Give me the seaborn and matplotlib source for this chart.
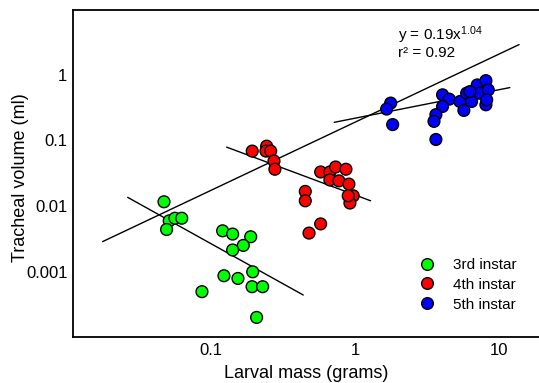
import numpy as np
import pandas as pd
import matplotlib
matplotlib.use("Agg")
import matplotlib.pyplot as plt
import matplotlib.ticker as mticker
from matplotlib.lines import Line2D
import seaborn as sns

# --- data (grams, ml) ---
mass_3rd = [0.0472, 0.0513, 0.0562, 0.0627, 0.0492, 0.1205, 0.1415, 0.1888, 0.1677,
            0.1415, 0.1231, 0.154, 0.195, 0.193, 0.2286, 0.0866, 0.2075]
vol_3rd = [0.0116, 0.00593, 0.00651, 0.00651, 0.00438, 0.00418, 0.00373, 0.00339, 0.0025,
           0.00213, 0.000861, 0.000783, 0.000989, 0.000586, 0.000586, 0.000492, 0.000199]

mass_4th = [0.1935, 0.2437, 0.241, 0.26, 0.274, 0.278, 0.578, 0.67, 0.734, 0.866,
            0.67, 0.774, 0.908, 0.973, 0.923, 0.898, 0.452, 0.452, 0.578, 0.48]
vol_4th = [0.0689, 0.082, 0.0689, 0.0689, 0.0486, 0.0364, 0.0331, 0.0331, 0.0394, 0.0364,
           0.025, 0.0242, 0.0216, 0.0143, 0.0111, 0.0143, 0.0167, 0.012, 0.00533, 0.00386]

mass_5th = [1.771, 1.66, 1.828, 4.06, 4.52, 4.06, 3.65, 3.54, 3.65, 5.36, 5.71, 5.97,
            6.46, 7.07, 8.12, 8.0, 8.12, 7.3, 6.29, 8.43, 8.22]
vol_5th = [0.3726, 0.302, 0.175, 0.498, 0.428, 0.331, 0.248, 0.196, 0.1036, 0.394, 0.288,
           0.528, 0.394, 0.705, 0.82, 0.558, 0.351, 0.528, 0.558, 0.593, 0.418]

instars = ["3rd instar", "4th instar", "5th instar"]
colors = ["#00ff00", "#ff0000", "#0000ff"]

# power-law fits y = a * x^b, drawn between xmin and xmax
fit_a = [10 ** -3.798, 10 ** -1.831, 10 ** -0.660, 0.19]
fit_b = [-1.223, -0.819, 0.435, 1.04]
fit_xmin = [0.0264, 0.1285, 0.718, 0.0177]
fit_xmax = [0.4375, 1.285, 11.9, 13.8]

df = pd.concat([
    pd.DataFrame({"mass": mass_3rd, "volume": vol_3rd, "instar": instars[0]}),
    pd.DataFrame({"mass": mass_4th, "volume": vol_4th, "instar": instars[1]}),
    pd.DataFrame({"mass": mass_5th, "volume": vol_5th, "instar": instars[2]}),
])

sns.set_style("white")
plt.rcParams["font.family"] = ["Liberation Sans", "DejaVu Sans"]
plt.rcParams["text.color"] = "black"
plt.rcParams["axes.labelcolor"] = "black"
plt.rcParams["mathtext.fontset"] = "custom"
plt.rcParams["mathtext.rm"] = "Liberation Sans"
plt.rcParams["mathtext.it"] = "Liberation Sans"

W, H = 539, 383
fig = plt.figure(figsize=(W / 100, H / 100), dpi=100)
ax = fig.add_axes([73 / W, (H - 337) / H, 472 / W, 327.5 / H])

for a, b, x0, x1 in zip(fit_a, fit_b, fit_xmin, fit_xmax):
    xs = np.array([x0, x1])
    ax.plot(xs, a * xs ** b, color="black", lw=1.0, zorder=1)

sns.scatterplot(data=df, x="mass", y="volume", hue="instar", palette=dict(zip(instars, colors)),
                s=72, edgecolor="black", linewidth=1.0, legend=False, ax=ax, zorder=3)

ax.set_xscale("log")
ax.set_yscale("log")
ax.set_xlim(10 ** -1.958, 10 ** 1.32)
ax.set_ylim(1e-4, 10)
ax.xaxis.set_major_locator(mticker.FixedLocator([0.1, 1, 10]))
ax.xaxis.set_major_formatter(mticker.FixedFormatter(["0.1", "1", "10"]))
ax.yaxis.set_major_locator(mticker.FixedLocator([0.001, 0.01, 0.1, 1]))
ax.yaxis.set_major_formatter(mticker.FixedFormatter(["0.001", "0.01", "0.1", "1"]))
ax.xaxis.set_minor_locator(mticker.NullLocator())
ax.yaxis.set_minor_locator(mticker.NullLocator())
ax.tick_params(direction="in", length=4, width=1.0, labelsize=12, pad=4, colors="black")

for side in ["left", "bottom", "top"]:
    ax.spines[side].set_color("black")
    ax.spines[side].set_linewidth(1.3)
ax.spines["right"].set_visible(False)

ax.set_xlabel("Larval mass (grams)", fontsize=13)
ax.set_ylabel("Tracheal volume (ml)", fontsize=13)
ax.xaxis.set_label_coords(0.495, -0.11)
ax.xaxis.label.set_va("center")
ax.yaxis.set_label_coords(-0.112, 0.486)
ax.yaxis.label.set_va("center")

ax.text(2.0, 3.39, "y = 0.19x$^{1.04}$", fontsize=11, va="baseline", ha="left", color="black")
ax.text(2.0, 1.87, "r² = 0.92", fontsize=11, va="baseline", ha="left", color="black")

handles = [Line2D([], [], marker="o", ls="", markersize=8.4, markerfacecolor=c,
                  markeredgecolor="black", markeredgewidth=1.0) for c in colors]
leg = ax.legend(handles, instars, frameon=False, fontsize=11, loc="upper left",
                bbox_to_anchor=(419.5 / W, (H - 258) / H), bbox_transform=fig.transFigure,
                borderpad=0, borderaxespad=0, handlelength=1.0, handletextpad=1.18,
                labelspacing=0.38)
for t in leg.get_texts():
    t.set_color("black")

fig.savefig("out.png", dpi=100)
